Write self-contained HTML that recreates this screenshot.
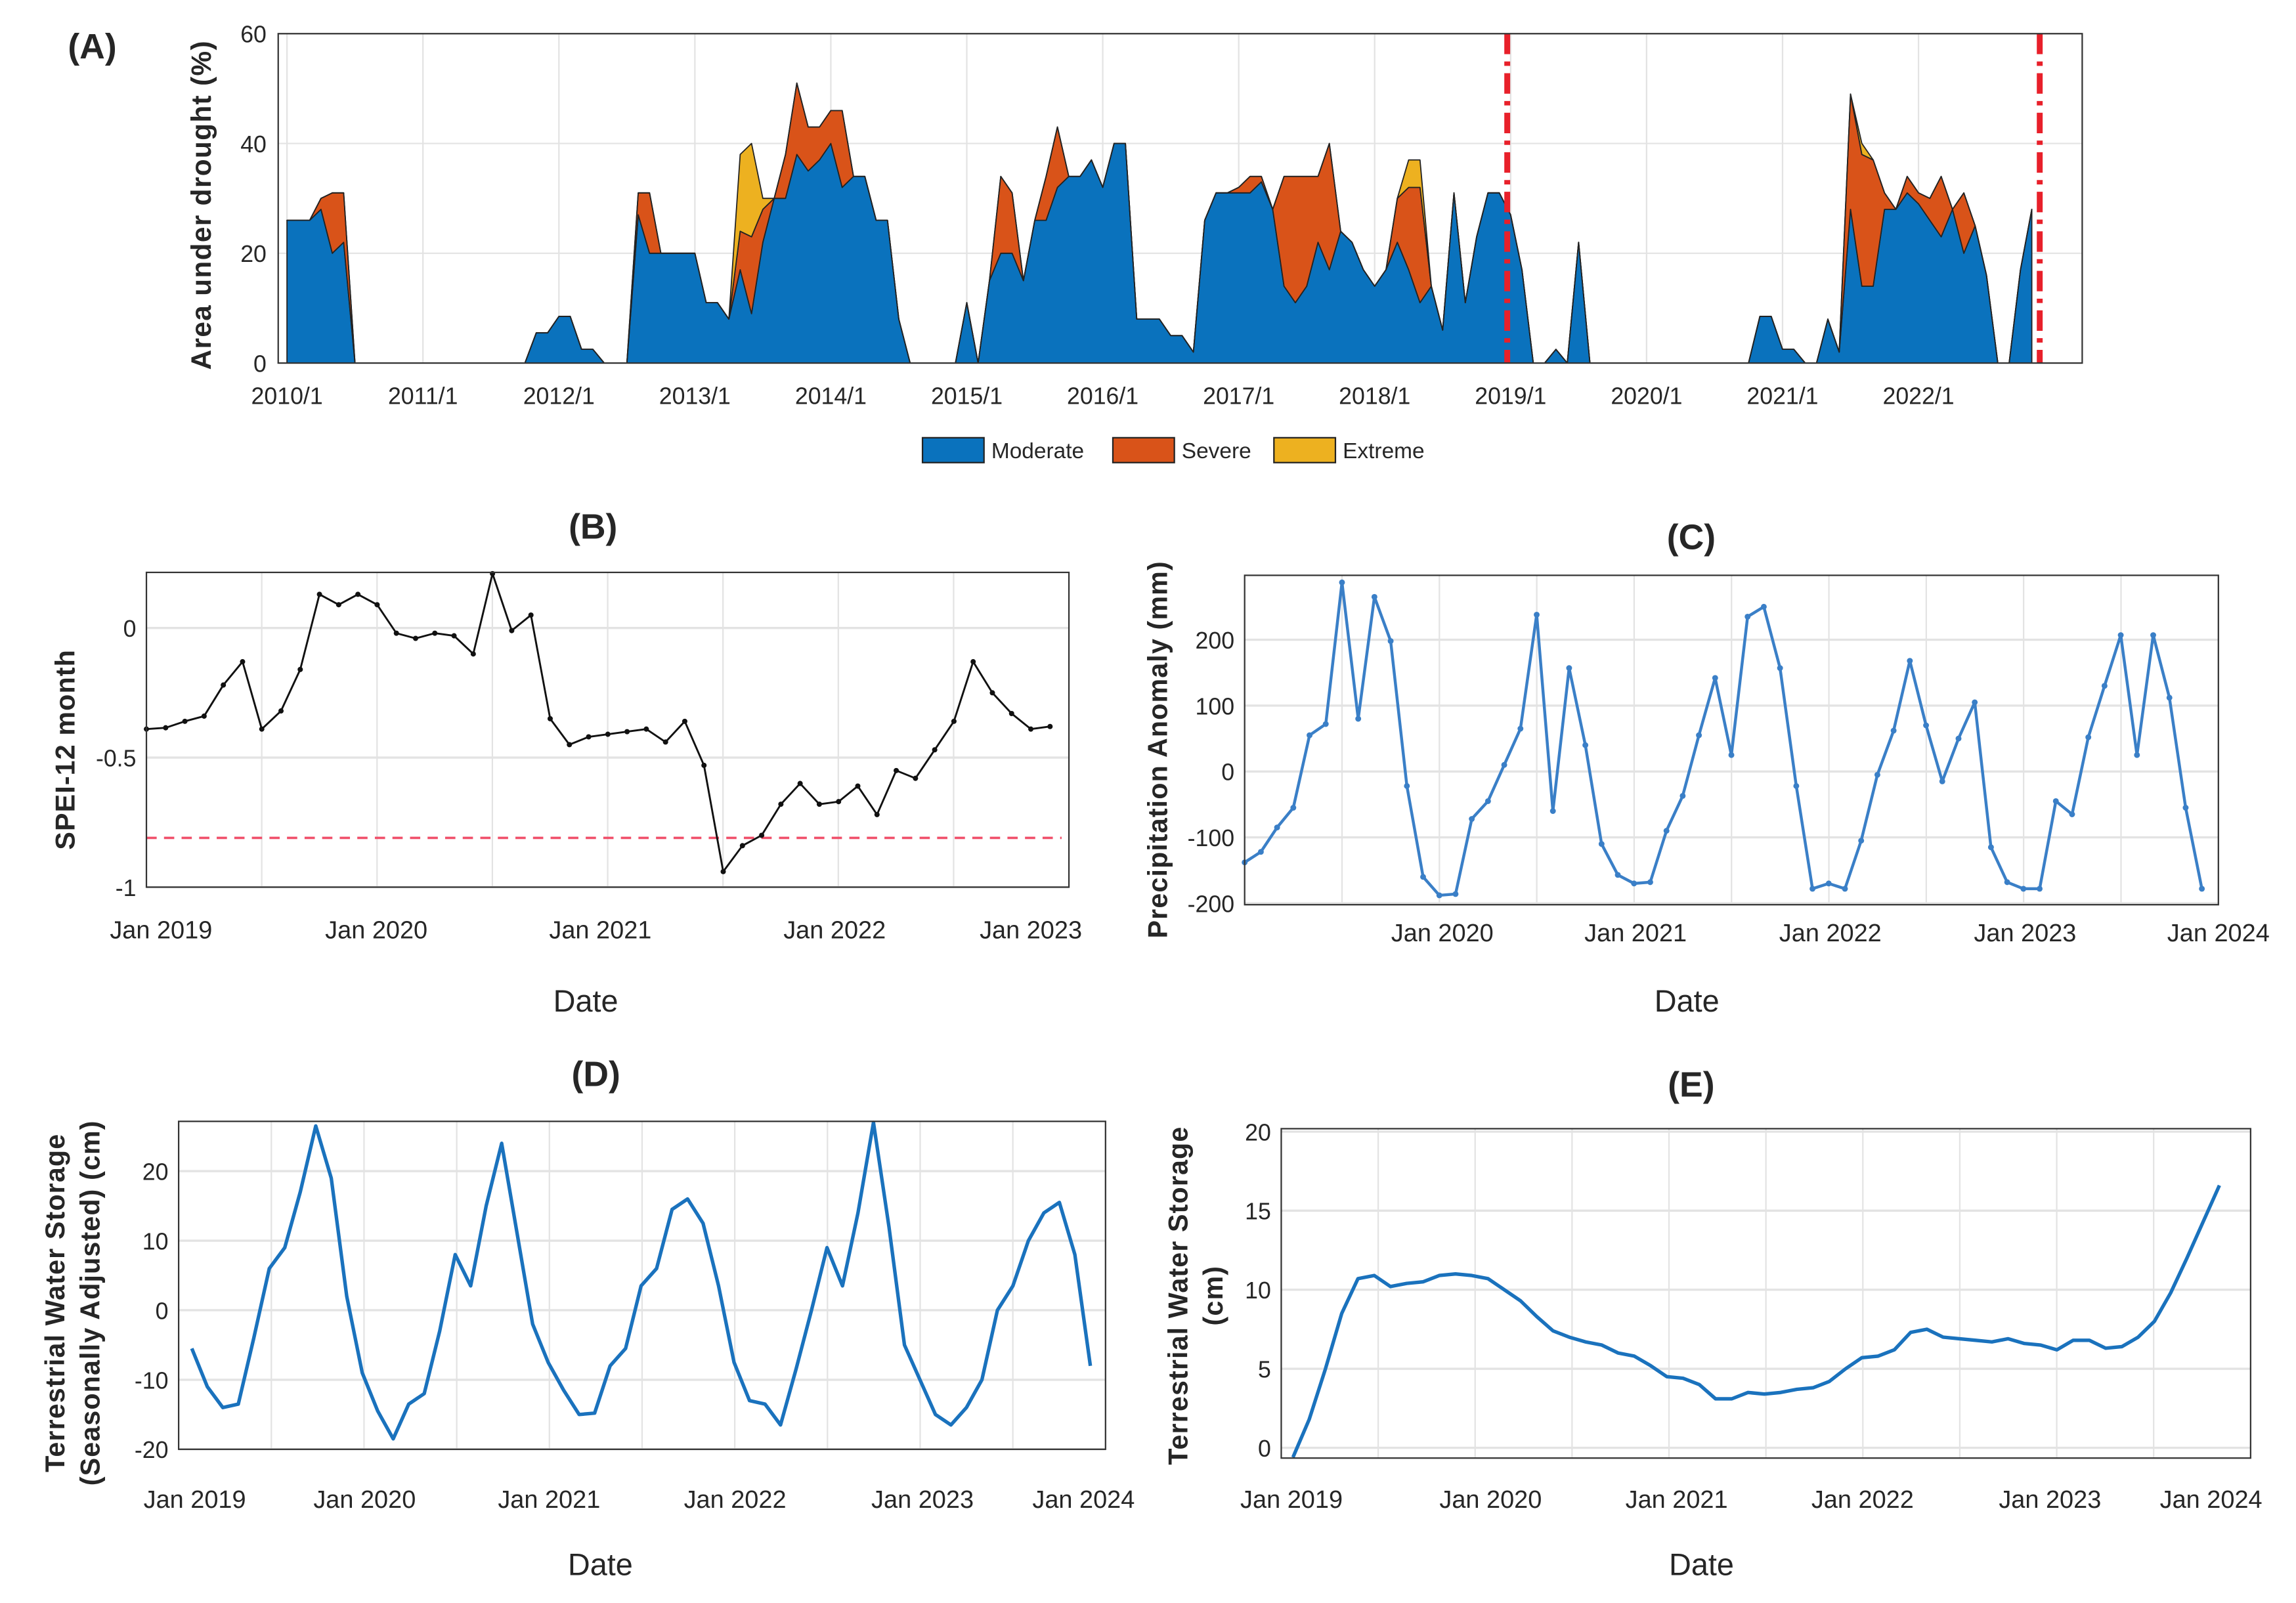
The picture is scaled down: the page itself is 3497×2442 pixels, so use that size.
<!DOCTYPE html>
<html><head><meta charset="utf-8">
<style>
html,body{margin:0;padding:0;background:#fff;}
svg{display:block;font-family:"Liberation Sans",Arial,sans-serif;}
</style></head>
<body>
<svg id="fig" width="3497" height="2442" viewBox="0 0 1568 1095" preserveAspectRatio="none" xmlns="http://www.w3.org/2000/svg"></svg>
<script>
// ---------- Panel A data (monthly from 2010/1) ----------
const aYearLabels = ["2010/1","2011/1","2012/1","2013/1","2014/1","2015/1","2016/1","2017/1","2018/1","2019/1","2020/1","2021/1","2022/1"];
const aYTicks = [0,20,40,60];
const aModerate = [26,26,26,28,20,22,0,0,0,0,0,0,0,0,0,0,0,0,0,0,0,0,
5.5,5.5,8.5,8.5,2.5,2.5,0,0,0,
27,20,20,20,20,20,11,11,8,17,9,22,30,30,38,35,37,40,32,34,34,26,26,8,
0,0,0,0,0,
11,0,15,20,20,15,26,26,32,34,34,37,32,40,40,8,8,8,5,5,2,26,31,31,31,31,33,28,14,11,14,22,17,24,22,17,14,17,22,17,11,14,6,31,11,23,31,31,27,17,0,0,2.5,0,22,
0,0,0,0,0,0,0,0,0,0,0,0,0,0,0,
8.5,8.5,2.5,2.5,0,0,8,2,28,14,14,28,28,31,29,26,23,28,20,25,16,0,0,17,28];
const aSevere = [0,0,0,2,11,9,0,0,0,0, 0,0,0,0,0,0,0,0,0,0, 0,0,0,0,0,0,0,0,0,0,
0,4,11,0,0,0,0,0,0,0, 7,14,6,0,8,13,8,6,6,14, 0,0,0,0,0,0,0,0,0,0,
0,0,0,14,11,0,0,8,11,0, 0,0,0,0,0,0,0,0,0,0, 0,0,0,0,1,3,1,0,20,23,
20,12,23,0,0,0,0,0,8,15, 21,0,0,0,0,0,0,0,0,0, 0,0,0,0,0,0,0,0,0,0,
0,0,0,0,0,0,0,0,0,0, 0,0,0,0,0,0,0,0,21,24, 23,3,0,3,2,4,11,0,11,0, 0,0,0,0,0];
const aExtreme = [0,0,0,0,0,0,0,0,0,0, 0,0,0,0,0,0,0,0,0,0, 0,0,0,0,0,0,0,0,0,0,
0,0,0,0,0,0,0,0,0,0, 14,17,2,0,0,0,0,0,0,0, 0,0,0,0,0,0,0,0,0,0,
0,0,0,0,0,0,0,0,0,0, 0,0,0,0,0,0,0,0,0,0, 0,0,0,0,0,0,0,0,0,0,
0,0,0,0,0,0,0,0,0,5, 5,0,0,0,0,0,0,0,0,0, 0,0,0,0,0,0,0,0,0,0,
0,0,0,0,0,0,0,0,0,0, 0,0,0,0,0,0,0,0,0,2, 0,0,0,0,0,0,0,0,0,0, 0,0,0,0,0];
const aRedLinesMonth = [107.7, 154.7];

// ---------- Panel B (SPEI, monthly from Jan 2019) ----------
const bSpei = [-0.39,-0.385,-0.36,-0.34,-0.22,-0.13,-0.39,-0.32,-0.16,0.13,0.09,0.13,0.09,-0.02,-0.04,-0.02,-0.03,-0.1,0.21,-0.01,0.05,-0.35,-0.45,-0.42,-0.41,-0.40,-0.39,-0.44,-0.36,-0.53,-0.94,-0.84,-0.8,-0.68,-0.6,-0.68,-0.67,-0.61,-0.72,-0.55,-0.58,-0.47,-0.36,-0.13,-0.25,-0.33,-0.39,-0.38];
const bThreshold = -0.81;
const bYTicks = [0,-0.5,-1];
const bYTickLabels = ["0","-0.5","-1"];
const bXLabels = ["Jan 2019","Jan 2020","Jan 2021","Jan 2022","Jan 2023"];

// ---------- Panel C (precip anomaly, monthly from Jan 2019) ----------
const cPrecip = [-138,-122,-85,-55,55,72,287,80,265,198,-22,-160,-188,-186,-72,-45,10,65,238,-60,157,40,-110,-157,-170,-168,-90,-37,55,142,25,235,250,157,-22,-178,-170,-178,-105,-5,62,168,70,-15,50,105,-115,-168,-178,-178,-45,-65,52,130,207,25,207,112,-55,-178];
const cYTicks = [-200,-100,0,100,200];
const cXLabels = ["Jan 2020","Jan 2021","Jan 2022","Jan 2023","Jan 2024"];

// ---------- Panel D (TWS seasonally adjusted) ----------
const dTws = [-5.5,-11,-14,-13.5,-4,6,9,17,26.5,19,2,-9,-14.5,-18.5,-13.5,-12,-3,8,3.5,15,24,11,-2,-7.5,-11.5,-15,-14.8,-8,-5.5,3.5,6,14.5,16,12.5,3.5,-7.5,-13,-13.5,-16.5,-8.5,0,9,3.5,14,27,12,-5,-10,-15,-16.5,-14,-10,0,3.5,10,14,15.5,8,-8];
const dYTicks = [-20,-10,0,10,20];
const dXLabels = ["Jan 2019","Jan 2020","Jan 2021","Jan 2022","Jan 2023","Jan 2024"];

// ---------- Panel E (TWS) ----------
const eTws = [-0.6,1.8,5,8.5,10.7,10.9,10.2,10.4,10.5,10.9,11,10.9,10.7,10,9.3,8.3,7.4,7,6.7,6.5,6,5.8,5.2,4.5,4.4,4,3.1,3.1,3.5,3.4,3.5,3.7,3.8,4.2,5,5.7,5.8,6.2,7.3,7.5,7,6.9,6.8,6.7,6.9,6.6,6.5,6.2,6.8,6.8,6.3,6.4,7,8,9.8,12,14.3,16.6];
const eYTicks = [0,5,10,15,20];
const eXLabels = ["Jan 2019","Jan 2020","Jan 2021","Jan 2022","Jan 2023","Jan 2024"];

const NS = "http://www.w3.org/2000/svg";
const svg = document.getElementById('fig');
function mk(tag, attrs, parent){
  const el = document.createElementNS(NS, tag);
  for (const k in attrs) el.setAttribute(k, attrs[k]);
  (parent||svg).appendChild(el);
  return el;
}
function txt(s, x, y, size, opts, parent){
  const o = Object.assign({x:x,y:y,'font-size':size,fill:'#262626','text-anchor':'middle'}, opts||{});
  const t = mk('text', o, parent);
  t.textContent = s;
  return t;
}
const GRID = '#e3e3e3', AX = '#333';

// =================== PANEL A ===================
(function(){
  const g = mk('g', {});
  
  
  const L=190,R=1422,T=23,B=248;
  const x = m => 196 + m*(92.85/12);
  const y = v => B - v*(B-T)/60;
  aYTicks.forEach(v=>{
    const l = mk('line',{x1:L,x2:R,y1:y(v),y2:y(v),stroke:GRID,'stroke-width':1},g);
    
    
    const t = txt(String(v), 182, y(v)+6, 16, {'text-anchor':'end'}, g);
    
    
  });
  aYearLabels.forEach((s,i)=>{
    const xx = x(i*12);
    const l = mk('line',{x1:xx,x2:xx,y1:T,y2:B,stroke:GRID,'stroke-width':1},g);
    
    
    const t = txt(s, xx, 276, 16, {}, g);
    
    
  });
  const n = aModerate.length;
  function layer(lo, hi, color, name){
    let pts = [];
    for(let i=0;i<n;i++) pts.push(x(i)+','+y(hi(i)));
    for(let i=n-1;i>=0;i--) pts.push(x(i)+','+y(lo(i)));
    const p = mk('polygon',{points:pts.join(' '),fill:color,stroke:'#222','stroke-width':0.8,'stroke-linejoin':'round'},g);
    
    
  }
  layer(i=>0, i=>aModerate[i], '#0a72bd', 'moderate-area');
  layer(i=>aModerate[i], i=>aModerate[i]+aSevere[i], '#d95319', 'severe-area');
  layer(i=>aModerate[i]+aSevere[i], i=>aModerate[i]+aSevere[i]+aExtreme[i], '#edb120', 'extreme-area');
  aRedLinesMonth.forEach(m=>{
    const l = mk('line',{x1:x(m),x2:x(m),y1:T,y2:B,stroke:'#e8202a','stroke-width':4,'stroke-dasharray':'14,5,3,5'},g);
    
    
  });
  const box = mk('rect',{x:L,y:T,width:R-L,height:B-T,fill:'none',stroke:AX,'stroke-width':1},g);
  
  
  const tl = txt('(A)', 63, 40, 24, {'font-weight':'bold'}, g);
  
  
  const yl = txt('Area under drought (%)', 0, 0, 19, {'font-weight':'bold','letter-spacing':'0.6',transform:'translate(144,140) rotate(-90)'}, g);
  
  
  // legend
  const leg = mk('g',{},g);
  
  
  const items = [['Moderate','#0a72bd',630],['Severe','#d95319',760],['Extreme','#edb120',870]];
  items.forEach(it=>{
    const r = mk('rect',{x:it[2],y:299,width:42,height:17,fill:it[1],stroke:'#222','stroke-width':1},leg);
    
    
    const t = txt(it[0], it[2]+47, 313, 15, {'text-anchor':'start'}, leg);
    
    
  });
})();

// =================== line panels ===================
function linePanel(cfg){
  const g = mk('g', {});
  
  
  const {L,R,T,B} = cfg;
  const y = v => cfg.y0 + (v - cfg.v0)*(cfg.y1 - cfg.y0)/(cfg.v1 - cfg.v0);
  const xm = m => cfg.xStart + m*cfg.dx;
  cfg.yTicks.forEach((v,i)=>{
    const l = mk('line',{x1:L,x2:R,y1:y(v),y2:y(v),stroke:GRID,'stroke-width':1.5},g);
    
    
    const t = txt(cfg.yLabels?cfg.yLabels[i]:String(v), L-7, y(v)+6, 16, {'text-anchor':'end'}, g);
    
    
  });
  for(let k=1;k<cfg.nHalf;k++){
    const xx = L + k*(R-L)/cfg.nHalf;
    const l = mk('line',{x1:xx,x2:xx,y1:T,y2:B,stroke:GRID,'stroke-width':1},g);
    
    
  }
  cfg.xLabels.forEach((s,i)=>{
    const t = txt(s, cfg.xLabelPos[i], cfg.xLabelY, 17, {}, g);
    
    
  });
  if (cfg.threshold !== undefined){
    const l = mk('line',{x1:L,x2:R-5,y1:y(cfg.threshold),y2:y(cfg.threshold),stroke:'#f0506a','stroke-width':1.6,'stroke-dasharray':'7,5'},g);
    
    
  }
  const pts = cfg.data.map((v,i)=> xm(i)+','+y(v)).join(' ');
  const pl = mk('polyline',{points:pts,fill:'none',stroke:cfg.color,'stroke-width':cfg.lw,'stroke-linejoin':'round'},g);
  
  
  if (cfg.markers){
    cfg.data.forEach((v,i)=>{
      const c = mk('circle',{cx:xm(i),cy:y(v),r:cfg.markers,fill:cfg.color},g);
      
      
    });
  }
  const box = mk('rect',{x:L,y:T,width:R-L,height:B-T,fill:'none',stroke:AX,'stroke-width':1},g);
  
  
  const tl = txt(cfg.title, cfg.titlePos[0], cfg.titlePos[1], 24, {'font-weight':'bold'}, g);
  
  
  cfg.yTitle.forEach((s,i)=>{
    const yt = txt(s, 0, 0, 18.5, {'font-weight':'bold','letter-spacing':'0.5',transform:'translate('+cfg.yTitlePos[i][0]+','+cfg.yTitlePos[i][1]+') rotate(-90)'}, g);
    
    
  });
  const xt = txt('Date', cfg.datePos[0], cfg.datePos[1], 21, {}, g);
  
  
}

linePanel({name:'panel-b', L:100,R:730,T:391,B:606, v0:0,y0:429, v1:-1,y1:606,
  xStart:100, dx:13.13, nHalf:8, data:bSpei, color:'#111', lw:1.3, markers:1.8,
  yTicks:bYTicks, yLabels:bYTickLabels, xLabels:bXLabels, xLabelPos:[110,257,410,570,704], xLabelY:641,
  threshold:bThreshold, title:'(B)', titlePos:[405,368], yTitle:['SPEI-12 month'], yTitlePos:[[51,512]], datePos:[400,691]});

linePanel({name:'panel-c', L:850,R:1515,T:393,B:618, v0:0,y0:527, v1:200,y1:437,
  xStart:850, dx:11.08, nHalf:10, data:cPrecip, color:'#3a7fc7', lw:2, markers:2,
  yTicks:cYTicks, xLabels:cXLabels, xLabelPos:[985,1117,1250,1383,1515], xLabelY:643,
  title:'(C)', titlePos:[1155,375], yTitle:['Precipitation Anomaly (mm)'], yTitlePos:[[797,512]], datePos:[1152,691]});

linePanel({name:'panel-d', L:122,R:755,T:766,B:990, v0:0,y0:895, v1:20,y1:800,
  xStart:131, dx:10.58, nHalf:10, data:dTws, color:'#1a72bd', lw:2.4,
  yTicks:dYTicks, xLabels:dXLabels, xLabelPos:[133,249,375,502,630,740], xLabelY:1030,
  title:'(D)', titlePos:[407,742], yTitle:['Terrestrial Water Storage','(Seasonally Adjusted) (cm)'], yTitlePos:[[44,890],[68,890]], datePos:[410,1076]});

linePanel({name:'panel-e', L:875,R:1537,T:771,B:996, v0:0,y0:989, v1:20,y1:773,
  xStart:883, dx:11.1, nHalf:10, data:eTws, color:'#1a72bd', lw:2.4,
  yTicks:eYTicks, xLabels:eXLabels, xLabelPos:[882,1018,1145,1272,1400,1510], xLabelY:1030,
  title:'(E)', titlePos:[1155,749], yTitle:['Terrestrial Water Storage','(cm)'], yTitlePos:[[811,885],[835,885]], datePos:[1162,1076]});
</script>
</body></html>
